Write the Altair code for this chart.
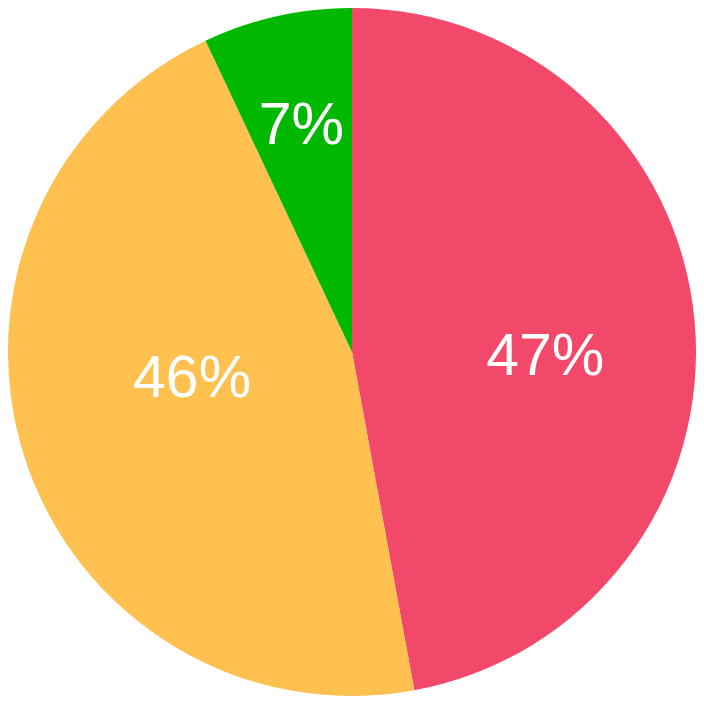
import altair as alt
import pandas as pd

categories = ["A", "B", "C"]
values = [47.1, 45.9, 7.0]
labels = ["47%", "46%", "7%"]
colors = ["#F2496B", "#FEC04F", "#00B800"]

df = pd.DataFrame({"cat": categories, "value": values, "label": labels, "order": [0, 1, 2]})

base = alt.Chart(df).encode(
    theta=alt.Theta("value:Q", stack=True),
    order=alt.Order("order:Q"),
)

arcs = base.mark_arc(stroke=None).encode(
    color=alt.Color("cat:N", scale=alt.Scale(domain=categories, range=colors), legend=None)
)

label_style = [(194, 23), (168, -24), (232, 0)]
texts = []
for cat, (r, dy) in zip(categories, label_style):
    texts.append(
        base.mark_text(
            radius=r, dy=dy, font="Liberation Sans", fontSize=59, color="white",
            baseline="middle", align="center",
        )
        .encode(text="label:N", opacity=alt.condition(alt.datum.cat == cat, alt.value(1), alt.value(0)))
    )

chart = (
    alt.layer(arcs, *texts)
    .properties(width=688, height=688, padding=0, autosize=alt.AutoSizeParams(type="none"))
    .configure_view(stroke=None)
)

chart.save("out.html", embed_options={"renderer": "svg", "actions": False})
